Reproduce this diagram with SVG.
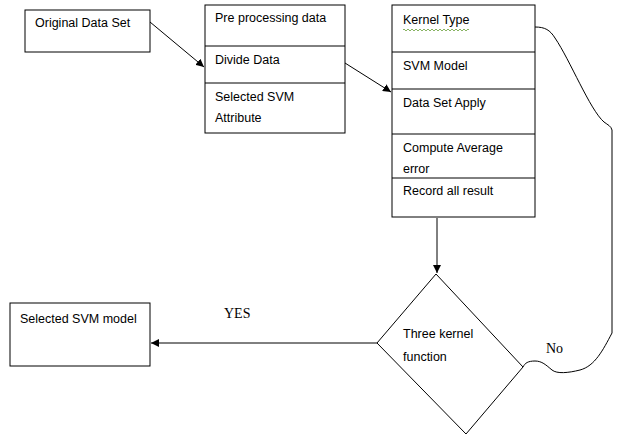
<svg xmlns="http://www.w3.org/2000/svg" width="618" height="437" viewBox="0 0 618 437">
  <style>
    .box { fill: #fff; stroke: #000; stroke-width: 1; }
    .line { fill: none; stroke: #000; stroke-width: 1; }
    .lbl { font-family: "Liberation Sans", Arial, sans-serif; font-size: 12.5px; fill: #000; }
    .ser { font-family: "Liberation Serif", "Times New Roman", serif; font-size: 14px; fill: #000; }
  </style>
  <defs>
    <marker id="arr" viewBox="0 0 10 10" refX="10" refY="5" markerWidth="8" markerHeight="8" orient="auto" markerUnits="userSpaceOnUse">
      <path d="M0,0 L10,5 L0,10 z" fill="#000"/>
    </marker>
  </defs>

  <rect width="618" height="437" fill="#fff"/>

  <!-- Connectors -->
  <g id="connectors">
    <line class="line" x1="150" y1="22" x2="204" y2="67" marker-end="url(#arr)"/>
    <line class="line" x1="345" y1="63" x2="391" y2="92" marker-end="url(#arr)"/>
    <line class="line" x1="437" y1="218" x2="437" y2="273" marker-end="url(#arr)"/>
    <line class="line" x1="377" y1="343" x2="151" y2="343" marker-end="url(#arr)"/>
    <!-- "No" loop back to the kernel type -->
    <path class="line" d="M523,367 C525,363 528,361 535,361 C542,361 546,365 552,370 C557,374 568,373 580,370 C595,366 603,350 612,333 L612,130 C611,126 608,125 604,122 C590,110 570,60 555,38 C550,30 545,27 535,27"/>
    <text class="ser" x="224" y="318">YES</text>
    <text class="ser" x="546" y="353">No</text>
  </g>

  <!-- Original data set -->
  <g id="original-data-set">
    <rect class="box" x="25" y="10" width="125" height="42"/>
    <text class="lbl" x="35" y="27">Original Data Set</text>
  </g>

  <!-- Preprocessing stack -->
  <g id="preprocessing">
    <rect class="box" x="205" y="5" width="140" height="128"/>
    <line class="line" x1="205" y1="46" x2="345" y2="46"/>
    <line class="line" x1="205" y1="83" x2="345" y2="83"/>
    <text class="lbl" x="215" y="22">Pre processing data</text>
    <text class="lbl" x="215" y="64">Divide Data</text>
    <text class="lbl" x="215" y="101">Selected SVM</text>
    <text class="lbl" x="215" y="122">Attribute</text>
  </g>

  <!-- SVM evaluation stack -->
  <g id="svm-evaluation">
    <rect class="box" x="392" y="5" width="143" height="212"/>
    <line class="line" x1="392" y1="52" x2="535" y2="52"/>
    <line class="line" x1="392" y1="89" x2="535" y2="89"/>
    <line class="line" x1="392" y1="134" x2="535" y2="134"/>
    <line class="line" x1="392" y1="178" x2="535" y2="178"/>
    <text class="lbl" x="403" y="24">Kernel Type</text>
    <path d="M403,30 q1,-2 2,0 t2,0 t2,0 t2,0 t2,0 t2,0 t2,0 t2,0 t2,0 t2,0 t2,0 t2,0 t2,0 t2,0 t2,0 t2,0 t2,0 t2,0 t2,0 t2,0 t2,0 t2,0 t2,0 t2,0 t2,0 t2,0 t2,0 t2,0 t2,0 t2,0 t2,0 t2,0 t2,0" fill="none" stroke="#6a9f3a" stroke-width="0.8"/>
    <text class="lbl" x="403" y="70">SVM Model</text>
    <text class="lbl" x="403" y="107">Data Set Apply</text>
    <text class="lbl" x="403" y="152">Compute Average</text>
    <text class="lbl" x="403" y="173">error</text>
    <text class="lbl" x="403" y="195">Record all result</text>
  </g>

  <!-- Decision -->
  <g id="three-kernel-decision">
    <polygon class="box" points="436,274 523,367 466,434 377,343"/>
    <text class="lbl" x="403" y="338">Three kernel</text>
    <text class="lbl" x="403" y="361">function</text>
  </g>

  <!-- Result -->
  <g id="selected-svm-model">
    <rect class="box" x="10" y="303" width="140" height="63"/>
    <text class="lbl" x="20" y="323">Selected SVM model</text>
  </g>
</svg>
